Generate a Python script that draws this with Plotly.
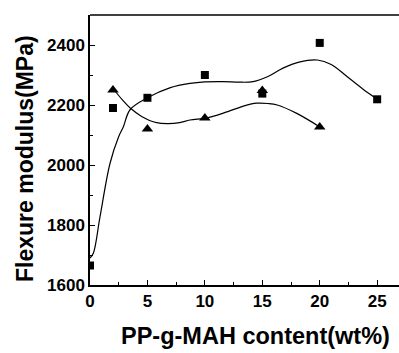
import plotly.graph_objects as go

# Measured points
content_sq = [0, 2, 5, 10, 15, 20, 25]
modulus_sq = [1665, 2190, 2224, 2300, 2238, 2407, 2219]

content_tri = [2, 5, 10, 15, 20]
modulus_tri = [2250, 2120, 2157, 2248, 2127]

# Smoothed fit curves
fit_sq_x = [0, 0.3, 0.87, 1.74, 2.5, 2.9, 3.5, 5, 7, 8.7, 10, 11.6, 13, 14.2, 15.5, 16.8, 18.2, 19.8, 21, 22.4, 23.8, 25]
fit_sq_y = [1690, 1707, 1827, 2005, 2095, 2127, 2185, 2224, 2258, 2272, 2277, 2278, 2276, 2278, 2295, 2323, 2343, 2350, 2335, 2294, 2252, 2220]

fit_tri_x = [2, 2.8, 3.5, 4.5, 5.8, 6.8, 7.8, 8.7, 10.2, 12, 13.5, 14.5, 15.5, 16.3, 18, 20]
fit_tri_y = [2255, 2218, 2190, 2162, 2141, 2138, 2141, 2150, 2157, 2178, 2198, 2206, 2205, 2200, 2172, 2127]

x_ticks = [0, 5, 10, 15, 20, 25]
y_ticks = [1600, 1800, 2000, 2200, 2400]

FONT = "Liberation Sans"

fig = go.Figure()
fig.add_trace(go.Scatter(x=fit_sq_x, y=fit_sq_y, mode="lines",
                         line=dict(color="black", width=1.2, shape="spline", smoothing=1.0),
                         showlegend=False, hoverinfo="skip"))
fig.add_trace(go.Scatter(x=fit_tri_x, y=fit_tri_y, mode="lines",
                         line=dict(color="black", width=1.2, shape="spline", smoothing=1.0),
                         showlegend=False, hoverinfo="skip"))
fig.add_trace(go.Scatter(x=content_tri, y=modulus_tri, mode="markers",
                         marker=dict(symbol="triangle-up", size=10, color="black"),
                         showlegend=False))
fig.add_trace(go.Scatter(x=content_sq, y=modulus_sq, mode="markers",
                         marker=dict(symbol="square", size=8, color="black"),
                         showlegend=False))

axis_common = dict(showline=True, linecolor="black", linewidth=1.5,
                   ticks="inside", ticklen=5, tickwidth=1.2, tickcolor="black",
                   showgrid=False, zeroline=False,
                   tickfont=dict(family=FONT, size=17, color="black", weight="bold"))

fig.update_xaxes(range=[0, 26.9], tickvals=x_ticks, ticktext=[str(v) for v in x_ticks],
                 minor=dict(ticks="inside", ticklen=3, tickwidth=1, tickcolor="black", dtick=2.5, tick0=0),
                 **axis_common)
fig.update_yaxes(range=[1600, 2500], tickvals=y_ticks, ticktext=[str(v) for v in y_ticks],
                 minor=dict(ticks="inside", ticklen=3, tickwidth=1, tickcolor="black", dtick=100, tick0=1600),
                 **axis_common)

fig.add_shape(type="line", xref="paper", yref="paper", x0=0, x1=1, y0=1, y1=1,
              line=dict(color="black", width=1.5))

fig.add_annotation(text="Flexure modulus(MPa)", xref="paper", yref="paper",
                   x=-0.21, y=0.467, textangle=-90, showarrow=False,
                   xanchor="center", yanchor="middle",
                   font=dict(family=FONT, size=23, color="black", weight="bold"))
fig.add_annotation(text="PP-g-MAH content(wt%)", xref="paper", yref="paper",
                   x=0.534, y=-0.19, showarrow=False,
                   xanchor="center", yanchor="middle",
                   font=dict(family=FONT, size=23.5, color="black", weight="bold"))

fig.update_layout(width=399, height=353,
                  margin=dict(l=90, r=0, t=15, b=68),
                  paper_bgcolor="white", plot_bgcolor="white",
                  showlegend=False)

fig.write_html("out.html")
